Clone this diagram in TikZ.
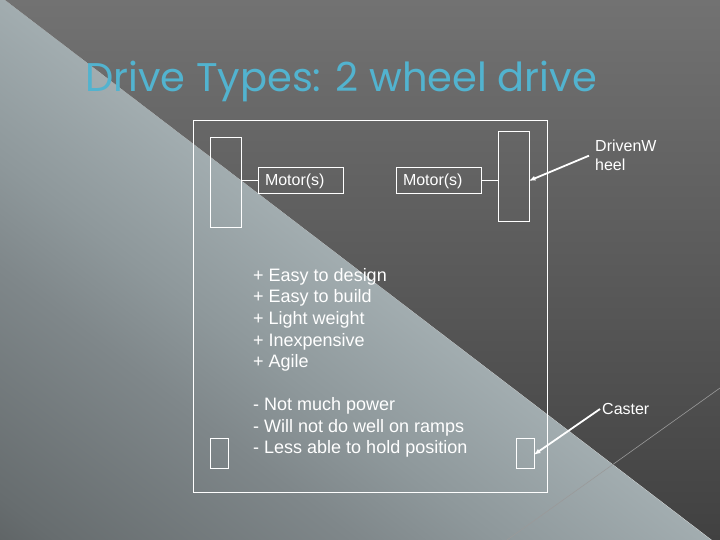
\documentclass[tikz,border=0pt]{standalone}
\usepackage{fontspec}
\setmainfont{Liberation Sans}
\newfontfamily\titlefont{Poppins}
\usepackage{xcolor}
\usetikzlibrary{arrows.meta, positioning}

\definecolor{titleblue}{HTML}{52B3CF}
\definecolor{streak}{HTML}{9A9A9A}
\definecolor{lowA}{HTML}{383838}
\definecolor{lowB}{HTML}{4A4C4D}
\definecolor{lowC}{HTML}{676D6F}
\definecolor{lowD}{HTML}{7F878A}
\definecolor{lowE}{HTML}{8E989B}
\definecolor{lowF}{HTML}{A6B1B4}
\definecolor{lowG}{HTML}{C0CCD0}
\definecolor{highA}{HTML}{383838}
\definecolor{highB}{HTML}{414141}
\definecolor{highC}{HTML}{5A5A5A}
\definecolor{highD}{HTML}{727272}
\definecolor{highE}{HTML}{7B7B7B}

\pgfdeclareverticalshading{lowband}{100bp}{%
  color(0bp)=(lowA); color(12bp)=(lowB); color(29bp)=(lowC); color(50bp)=(lowD);
  color(60bp)=(lowE); color(78bp)=(lowF); color(100bp)=(lowG)}
\pgfdeclareverticalshading{highband}{100bp}{%
  color(0bp)=(highA); color(25bp)=(highB); color(50bp)=(highC);
  color(75bp)=(highD); color(100bp)=(highE)}

\begin{document}
\begin{tikzpicture}[
    x=1pt, y=-1pt,
    box/.style={draw=white, line width=1pt, inner sep=0pt},
    motor/.style={box, minimum width=85pt, minimum height=26pt, text width=71pt,
      inner xsep=7pt, align=left, text=white, font=\fontsize{16}{19.2}\selectfont},
    wheel/.style={box, minimum width=31pt, minimum height=90pt},
    caster/.style={box, minimum width=18pt, minimum height=30pt},
    note/.style={text=white, inner sep=0pt, align=left, font=\fontsize{16}{19.2}\selectfont},
    list/.style={text=white, inner sep=0pt, align=left, font=\fontsize{18}{21.6}\selectfont},
    wire/.style={white, line width=1pt},
    pointer/.style={->, white, line width=1.8pt},
    >={Latex[length=7pt, width=5pt]}
  ]
  \useasboundingbox (0,0) rectangle (720,540);

  % Background
  \begin{scope}
    \clip (0,0) -- (5,0) -- (712,540) -- (0,540) -- cycle;
    \begin{scope}[transform canvas={rotate around={-37.4:(0,540)}}]
      \shade[shading=lowband] (-1000,108) rectangle (1000,540);
    \end{scope}
  \end{scope}
  \shade[shading=highband] (5,0) -- (720,0) -- (720,540) -- (712,540) -- cycle;
  \draw[streak, line width=0.6pt] (720,388) -- (507,540);

  % Title
  \node[anchor=base, text=titleblue, font=\titlefont\fontsize{40}{48}\selectfont] (title)
    at (341,92) {Drive Types: 2 wheel drive};

  % Robot base
  \node[box, minimum width=354pt, minimum height=371pt] (frame) at (370,306.5) {};
  \node[wheel] (lwheel) at (225.5,183) {};
  \node[wheel] (rwheel) at (513.5,177) {};
  \node[motor] (lmotor) at (300.5,181) {Motor(s)};
  \node[motor] (rmotor) at (438.5,181) {Motor(s)};
  \draw[wire] (lwheel.east |- lmotor.west) -- (lmotor.west);
  \draw[wire] (rmotor.east) -- (rwheel.west |- rmotor.east);
  \node[caster] (lcaster) at (219.5,453) {};
  \node[caster] (rcaster) at (525,453) {};

  % Pros and cons
  \node[list, anchor=north west] (pros) at (253,268)
    {+ Easy to design\\+ Easy to build\\+ Light weight\\+ Inexpensive\\+ Agile};
  \node[list, anchor=north west] (cons) at (253,397.5)
    {- Not much power\\- Will not do well on ramps\\- Less able to hold position};

  % Callouts
  \node[note, anchor=north west] (driven) at (595,140) {DrivenW\\heel};
  \draw[pointer] ([xshift=-6pt]driven.west) -- ([xshift=-1pt, yshift=-4pt]rwheel.east);
  \node[note, anchor=west] (castlabel) at (602,409) {Caster};
  \draw[pointer] ([xshift=-2pt]castlabel.west) -- ([xshift=-1pt, yshift=-2pt]rcaster.east);
\end{tikzpicture}
\end{document}
